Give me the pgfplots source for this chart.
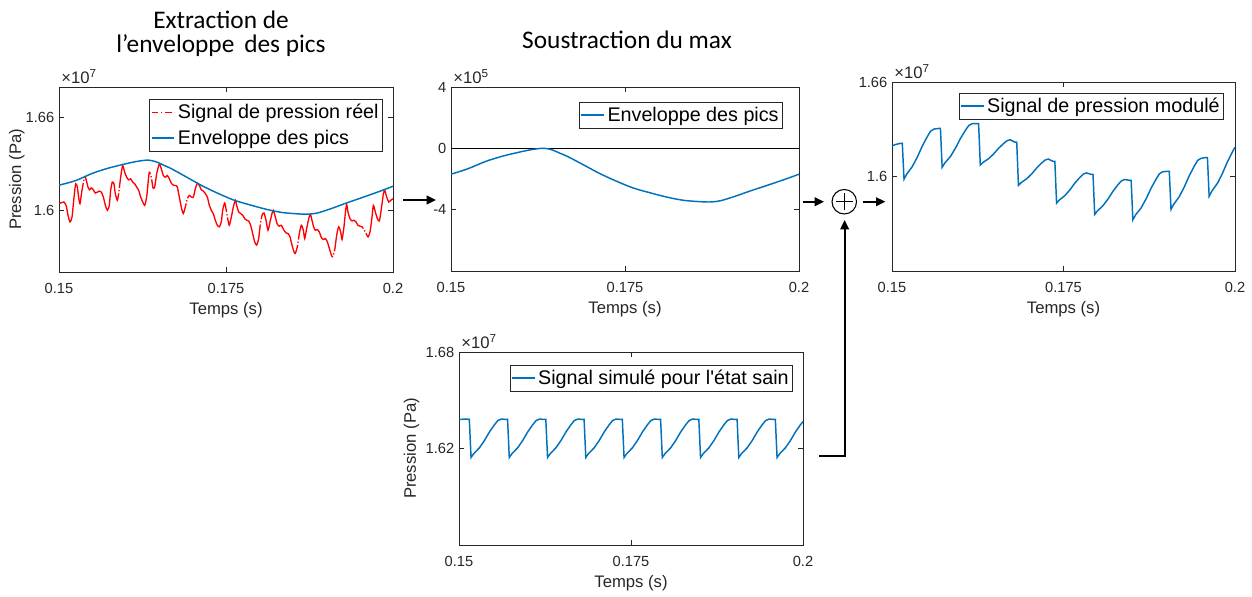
\documentclass[border=0pt]{standalone}
\usepackage{fontspec}
\setmainfont{Liberation Sans}
\newfontfamily\titlefont{Carlito}
\usepackage{pgfplots}
\pgfplotsset{compat=1.18}
\usetikzlibrary{arrows.meta}
\definecolor{mblue}{RGB}{0,114,189}
\definecolor{axgray}{RGB}{38,38,38}

\pgfplotsset{
  mstyle/.style={
    scale only axis,
    clip mode=individual,
    anchor=south west,
    xmin=0.15, xmax=0.2,
    xtick={0.15,0.175,0.2},
    xticklabels={0.15,0.175,0.2},
    /pgf/number format/assume math mode=true,
    tick align=inside,
    major tick length=3.5pt,
    axis line style={axgray, line width=0.6pt},
    every tick/.style={axgray, line width=0.6pt},
    tick label style={font=\fontsize{11}{13}\selectfont, text=axgray},
    xticklabel style={yshift=-5pt},
    label style={font=\fontsize{12.5}{14}\selectfont, text=axgray},
    xlabel={Temps (s)},
    legend style={font=\fontsize{14.8}{16}\selectfont, anchor=north east, draw=axgray, line width=0.5pt, fill=white, inner xsep=1pt, inner ysep=1.5pt, row sep=3pt, cells={anchor=west}},
    legend image code/.code={\draw[#1] (0pt,0pt) -- (17pt,0pt);},
  },
  sig/.style={mblue, line width=1.1pt},
}

\newcommand{\tenpow}[1]{\node[anchor=south west, inner sep=0pt, xshift=1.5pt, yshift=2.5pt, font=\fontsize{12.5}{14}\selectfont, text=axgray] at (rel axis cs:0,1) {×10\textsuperscript{#1}};}

\begin{document}
\begin{tikzpicture}
\useasboundingbox (0,0) rectangle (939pt,447pt);

% ---------- Panel 1 ----------
\begin{axis}[mstyle,
  at={(44.25pt,243pt)}, width=250.5pt, height=138.75pt,
  ymin=1.56, ymax=1.68,
  ytick={1.6,1.66}, yticklabels={1.6,1.66},
  ylabel={Pression (Pa)}, ylabel shift=-6pt,
  legend style={at={(0.970,0.935)}},
]
\addplot[red, line width=1pt, smooth, tension=0.4, dash pattern=on 80pt off 1.5pt on 1pt off 1.5pt,
  legend image post style={dash pattern=on 5pt off 2pt on 1pt off 2pt}] coordinates {
(0.15,1.6045) (0.15025,1.6047) (0.15075,1.6054) (0.1511,1.6026) (0.15135,1.5968)
(0.15165,1.5925) (0.15195,1.5957) (0.15225,1.6086) (0.1525,1.6172) (0.15274,1.6151)
(0.15294,1.6086) (0.15314,1.6043) (0.15344,1.6129) (0.15384,1.6219) (0.15409,1.6194)
(0.15434,1.6151) (0.15459,1.6133) (0.15484,1.6146) (0.15514,1.6133) (0.15544,1.6112)
(0.15574,1.6118) (0.15604,1.6125) (0.15634,1.6118) (0.15664,1.6086) (0.15694,1.6032)
(0.15724,1.6000) (0.15753,1.6032) (0.15773,1.6129) (0.15798,1.6183) (0.15823,1.6172)
(0.15843,1.6108) (0.15873,1.6065) (0.15893,1.6108) (0.15923,1.6215) (0.15953,1.6290)
(0.15983,1.6247) (0.16013,1.6215) (0.16043,1.6198) (0.16073,1.6204) (0.16103,1.6183)
(0.16133,1.6172) (0.16163,1.6151) (0.16193,1.6129) (0.16223,1.6086) (0.16253,1.6054)
(0.16283,1.6032) (0.16312,1.6086) (0.16332,1.6172) (0.16352,1.6247) (0.16382,1.6215)
(0.16407,1.6146) (0.16432,1.6151) (0.16462,1.6237) (0.16502,1.6301) (0.16532,1.6269)
(0.16562,1.6226) (0.16592,1.6215) (0.16622,1.6226) (0.16652,1.6204) (0.16687,1.6172)
(0.16722,1.6161) (0.16752,1.6161) (0.16772,1.6151) (0.16801,1.6086) (0.16836,1.6011)
(0.16861,1.5979) (0.16891,1.6022) (0.16921,1.6075) (0.16951,1.6097) (0.16981,1.6086)
(0.17011,1.6086) (0.17041,1.6140) (0.17071,1.6176) (0.17101,1.6161) (0.17131,1.6133)
(0.17161,1.6125) (0.17191,1.6108) (0.17221,1.6086) (0.17251,1.6032) (0.17281,1.6000)
(0.1731,1.5979) (0.1734,1.5936) (0.1737,1.5903) (0.174,1.5893) (0.1743,1.5925)
(0.1745,1.6000) (0.1748,1.6047) (0.175,1.6011) (0.1753,1.5936) (0.1755,1.5903)
(0.1758,1.5957) (0.1761,1.6022) (0.1764,1.6065) (0.1766,1.6032) (0.1769,1.5989)
(0.1772,1.5979) (0.1775,1.5968) (0.1778,1.5946) (0.17809,1.5936) (0.17839,1.5931)
(0.17869,1.5903) (0.17899,1.5850) (0.17929,1.5796) (0.17959,1.5774) (0.17989,1.5817)
(0.18009,1.5893) (0.18039,1.5968) (0.18069,1.5983) (0.18099,1.5936) (0.18129,1.5871)
(0.18159,1.5925) (0.18189,1.5979) (0.18209,1.6000) (0.18238,1.5957) (0.18268,1.5910)
(0.18298,1.5897) (0.18328,1.5903) (0.18368,1.5871) (0.18398,1.5854) (0.18428,1.5850)
(0.18458,1.5828) (0.18488,1.5774) (0.18518,1.5731) (0.18538,1.5721) (0.18568,1.5764)
(0.18598,1.5850) (0.18628,1.5903) (0.18658,1.5871) (0.18678,1.5817) (0.18708,1.5882)
(0.18738,1.5946) (0.18763,1.5974) (0.18787,1.5936) (0.18812,1.5893) (0.18837,1.5871)
(0.18867,1.5875) (0.18897,1.5860) (0.18927,1.5824) (0.18957,1.5811) (0.18987,1.5817)
(0.19017,1.5796) (0.19047,1.5753) (0.19077,1.5710) (0.19097,1.5699) (0.19127,1.5742)
(0.19157,1.5839) (0.19187,1.5893) (0.19217,1.5860) (0.19237,1.5811) (0.19266,1.5893)
(0.19286,1.5979) (0.19306,1.6039) (0.19326,1.5989) (0.19356,1.5946) (0.19386,1.5931)
(0.19416,1.5936) (0.19446,1.5925) (0.19476,1.5903) (0.19506,1.5897) (0.19536,1.5893)
(0.19566,1.5875) (0.19596,1.5850) (0.19626,1.5828) (0.19656,1.5860) (0.19686,1.5957)
(0.19706,1.6032) (0.19736,1.5989) (0.19766,1.5946) (0.19796,1.5931) (0.19826,1.6011)
(0.19856,1.6108) (0.19876,1.6129) (0.19906,1.6086) (0.19936,1.6054) (0.19966,1.6065)
(0.2,1.6075)
};
\addlegendentry{Signal de pression réel}
\addplot[sig, smooth] coordinates {
(0.15,1.6163) (0.1525,1.6193) (0.155,1.6240) (0.1575,1.6275) (0.16,1.6302)
(0.1615,1.6316) (0.163,1.6325) (0.1638,1.6323) (0.1647,1.6312) (0.1657,1.6292)
(0.1667,1.6273) (0.169,1.6218) (0.1714,1.6160) (0.1738,1.6110) (0.1762,1.6066)
(0.1786,1.6035) (0.181,1.6007) (0.1834,1.5986) (0.1858,1.5977) (0.1872,1.5975)
(0.1887,1.5983) (0.1906,1.6009) (0.193,1.6047) (0.1954,1.6083) (0.1978,1.6120)
(0.2,1.6156)
};
\addlegendentry{Enveloppe des pics}
\tenpow{7}
\end{axis}

% ---------- Panel 2 ----------
\begin{axis}[mstyle,
  at={(338.25pt,243.75pt)}, width=261pt, height=138pt,
  ymin=-8, ymax=4,
  ytick={-4,0,4}, yticklabels={-4,0,4},
  legend style={at={(0.954,0.918)}},
]
\addplot[black, line width=0.6pt, forget plot] coordinates {(0.15,0) (0.2,0)};
\addplot[sig, smooth] coordinates {
(0.15,-1.69) (0.1525,-1.32) (0.155,-0.85) (0.1575,-0.50) (0.16,-0.23)
(0.1615,-0.09) (0.163,0) (0.1638,-0.02) (0.1647,-0.13) (0.1657,-0.33)
(0.1667,-0.52) (0.169,-1.07) (0.1714,-1.65) (0.1738,-2.15) (0.1762,-2.59)
(0.1786,-2.90) (0.181,-3.18) (0.1834,-3.39) (0.1858,-3.48) (0.1872,-3.50)
(0.1887,-3.42) (0.1906,-3.16) (0.193,-2.78) (0.1954,-2.42) (0.1978,-2.05)
(0.2,-1.69)
};
\addlegendentry{Enveloppe des pics}
\tenpow{5}
\end{axis}

% ---------- Panel 3 ----------
\begin{axis}[mstyle,
  at={(669pt,243.75pt)}, width=257.25pt, height=141.75pt,
  ymin=1.54, ymax=1.66,
  ytick={1.6,1.66}, yticklabels={1.6,1.66},
  legend style={at={(0.968,0.942)}},
]
\addplot[sig] coordinates {
(0.15,1.6194) (0.1505,1.6203) (0.1512,1.6210)
(0.1515,1.6211) (0.15175,1.5983) (0.15214,1.6015) (0.15296,1.6063) (0.15369,1.6123)
(0.15441,1.6193) (0.15514,1.6253) (0.15563,1.6288) (0.15611,1.6301) (0.1568,1.6305)
(0.15706,1.6305) (0.15731,1.6058) (0.1577,1.6086) (0.15852,1.6127) (0.15925,1.6180)
(0.15997,1.6241) (0.1607,1.6293) (0.16119,1.6324) (0.16167,1.6335) (0.16236,1.6336)
(0.16262,1.6336) (0.16287,1.6073) (0.16326,1.6089) (0.16408,1.6113) (0.16481,1.6143)
(0.16553,1.6179) (0.16626,1.6209) (0.16675,1.6227) (0.16723,1.6233) (0.16792,1.6218)
(0.16818,1.6218) (0.16843,1.5944) (0.16882,1.5961) (0.16964,1.5986) (0.17037,1.6017)
(0.17109,1.6054) (0.17182,1.6086) (0.17231,1.6104) (0.17279,1.6111) (0.17348,1.6096)
(0.17374,1.6096) (0.17399,1.5831) (0.17438,1.5850) (0.1752,1.5879) (0.17593,1.5915)
(0.17665,1.5958) (0.17738,1.5994) (0.17787,1.6015) (0.17835,1.6023) (0.17904,1.6013)
(0.1793,1.6013) (0.17955,1.5759) (0.17994,1.5781) (0.18076,1.5815) (0.18149,1.5857)
(0.18221,1.5906) (0.18294,1.5948) (0.18343,1.5972) (0.18391,1.5981) (0.1846,1.5976)
(0.18486,1.5976) (0.18511,1.5725) (0.1855,1.5756) (0.18632,1.5801) (0.18705,1.5859)
(0.18777,1.5926) (0.1885,1.5984) (0.18899,1.6018) (0.18947,1.6030) (0.19016,1.6033)
(0.19042,1.6033) (0.19067,1.5791) (0.19106,1.5823) (0.19188,1.5872) (0.19261,1.5934)
(0.19333,1.6005) (0.19406,1.6066) (0.19455,1.6102) (0.19503,1.6115) (0.19572,1.6120)
(0.19598,1.6120) (0.19623,1.5874) (0.19662,1.5907) (0.19744,1.5957) (0.19817,1.6020)
(0.19889,1.6093) (0.19962,1.6156) (0.2,1.6186)
};
\addlegendentry{Signal de pression modulé}
\tenpow{7}
\end{axis}

% ---------- Panel 4 ----------
\begin{axis}[mstyle,
  at={(344.25pt,38.25pt)}, width=258pt, height=144.75pt,
  ymin=1.56, ymax=1.68,
  ytick={1.62,1.68}, yticklabels={1.62,1.68},
  ylabel={Pression (Pa)}, ylabel shift=-2pt,
  legend style={at={(0.971,0.933)}},
]
\addplot[sig] coordinates {
(0.15,1.6380) (0.1505,1.6382) (0.1512,1.6383)
(0.1515,1.6381) (0.15175,1.6144) (0.15214,1.6168) (0.15296,1.6204) (0.15369,1.6249)
(0.15441,1.6302) (0.15514,1.6347) (0.15563,1.6373) (0.15611,1.6383) (0.1568,1.6381)
(0.15706,1.6381) (0.15731,1.6144) (0.1577,1.6168) (0.15852,1.6204) (0.15925,1.6249)
(0.15997,1.6302) (0.1607,1.6347) (0.16119,1.6373) (0.16167,1.6383) (0.16236,1.6381)
(0.16262,1.6381) (0.16287,1.6144) (0.16326,1.6168) (0.16408,1.6204) (0.16481,1.6249)
(0.16553,1.6302) (0.16626,1.6347) (0.16675,1.6373) (0.16723,1.6383) (0.16792,1.6381)
(0.16818,1.6381) (0.16843,1.6144) (0.16882,1.6168) (0.16964,1.6204) (0.17037,1.6249)
(0.17109,1.6302) (0.17182,1.6347) (0.17231,1.6373) (0.17279,1.6383) (0.17348,1.6381)
(0.17374,1.6381) (0.17399,1.6144) (0.17438,1.6168) (0.1752,1.6204) (0.17593,1.6249)
(0.17665,1.6302) (0.17738,1.6347) (0.17787,1.6373) (0.17835,1.6383) (0.17904,1.6381)
(0.1793,1.6381) (0.17955,1.6144) (0.17994,1.6168) (0.18076,1.6204) (0.18149,1.6249)
(0.18221,1.6302) (0.18294,1.6347) (0.18343,1.6373) (0.18391,1.6383) (0.1846,1.6381)
(0.18486,1.6381) (0.18511,1.6144) (0.1855,1.6168) (0.18632,1.6204) (0.18705,1.6249)
(0.18777,1.6302) (0.1885,1.6347) (0.18899,1.6373) (0.18947,1.6383) (0.19016,1.6381)
(0.19042,1.6381) (0.19067,1.6144) (0.19106,1.6168) (0.19188,1.6204) (0.19261,1.6249)
(0.19333,1.6302) (0.19406,1.6347) (0.19455,1.6373) (0.19503,1.6383) (0.19572,1.6381)
(0.19598,1.6381) (0.19623,1.6144) (0.19662,1.6168) (0.19744,1.6204) (0.19817,1.6249)
(0.19889,1.6302) (0.19962,1.6347) (0.2,1.6368)
};
\addlegendentry{Signal simulé pour l\textquotesingle état sain}
\tenpow{7}
\end{axis}

% ---------- Titles ----------
\node[font=\titlefont\fontsize{19}{21}\selectfont, text=black] at (165.75pt,432pt) {Extraction de};
\node[font=\titlefont\fontsize{19}{21}\selectfont, text=black] at (165.75pt,412.5pt) {l’enveloppe\, des pics};
\node[font=\titlefont\fontsize{19}{21}\selectfont, text=black] at (470.25pt,417pt) {Soustraction du max};

% ---------- Arrows and sum ----------
\draw[black, line width=1.3pt, -{Triangle[length=7pt,width=6.5pt]}] (302.25pt,297pt) -- (327pt,297pt);
\draw[black, line width=1.3pt, -{Triangle[length=7pt,width=6.5pt]}] (602pt,295.7pt) -- (618pt,295.7pt);
\draw[black, line width=0.8pt] (633.2pt,295.7pt) circle (9.2pt);
\draw[black, line width=0.8pt] (626.7pt,295.7pt) -- (639.7pt,295.7pt);
\draw[black, line width=0.8pt] (633.2pt,289.2pt) -- (633.2pt,302.2pt);
\draw[black, line width=1.3pt, -{Triangle[length=7pt,width=6.5pt]}] (647pt,295.7pt) -- (664pt,295.7pt);
\draw[black, line width=1.3pt, -{Triangle[length=7pt,width=6.5pt]}] (614.5pt,105pt) -- (633.5pt,105pt) -- (633.5pt,282pt);
\end{tikzpicture}
\end{document}
